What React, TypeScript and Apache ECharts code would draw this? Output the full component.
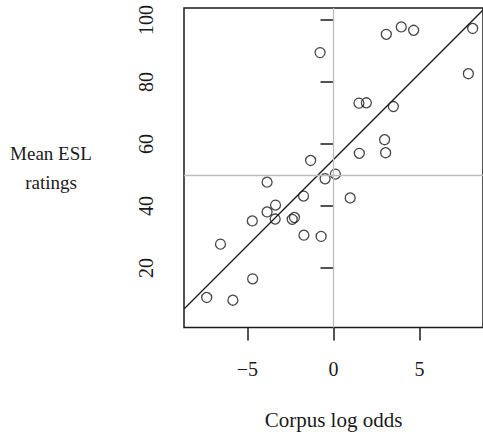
import React, { useEffect, useRef } from "react";
import * as echarts from "echarts";

// Corpus log odds (x) and Mean ESL ratings (y) for each item
const logOdds = [
  -0.78, 3.07, 3.94, 4.66, 8.09, 7.84, 1.48, 1.91, 3.48, 2.97,
  3.03, 1.5, -1.33, 0.11, -0.49, -3.86, 0.97, -1.74, -3.37, -3.86,
  -3.39, -2.4, -2.27, -4.72, -6.57, -4.7, -7.37, -5.85, -1.72, -0.72,
];
const eslRatings = [
  89.5, 95.4, 97.8, 96.7, 97.3, 82.7, 73.2, 73.3, 72.1, 61.4,
  57.2, 57.0, 54.7, 50.3, 48.8, 47.7, 42.6, 43.2, 40.3, 38.1,
  35.8, 35.7, 36.3, 35.2, 27.7, 16.5, 10.5, 9.6, 30.6, 30.2,
];
const xTicks = [-5, 0, 5];
const yTicks = [20, 40, 60, 80, 100];
const fitIntercept = 55.0;
const fitSlope = 5.55;
const xRange = [-8.69, 8.69];
const yRange = [0.8, 103.9];
const refX = 0;
const refY = 50;

export default function App() {
  const ref = useRef<HTMLDivElement>(null);
  useEffect(() => {
    document.body.style.margin = "0";
    const chart = echarts.init(ref.current!, null, { renderer: "svg" });
    const font = "'Liberation Serif', 'Times New Roman', serif";
    const ink = "#1a1a1a";
    const points = logOdds.map((x, i) => [x, eslRatings[i]]);
    const fit = xRange.map((x) => [x, fitIntercept + fitSlope * x]);
    chart.setOption({
      animation: false,
      grid: {
        left: 184,
        top: 8,
        right: -7,
        bottom: 107,
        show: true,
        borderColor: ink,
        borderWidth: 1.5,
        backgroundColor: "transparent",
      },
      xAxis: {
        type: "value",
        min: xRange[0],
        max: xRange[1],
        axisLine: { show: false },
        axisTick: {
          show: true,
          customValues: xTicks,
          length: 13,
          lineStyle: { color: ink, width: 1.5 },
        },
        axisLabel: {
          customValues: xTicks,
          formatter: (v: number) => String(v).replace("-", "\u2212"),
          margin: 31,
          fontFamily: font,
          fontSize: 20,
          color: ink,
        },
        splitLine: { show: false },
        name: "Corpus log odds",
        nameLocation: "middle",
        nameGap: 92,
        nameTextStyle: {
          fontFamily: font,
          fontSize: 21,
          color: ink,
          verticalAlign: "middle",
        },
      },
      yAxis: {
        type: "value",
        min: yRange[0],
        max: yRange[1],
        axisLine: { show: false },
        axisTick: {
          show: true,
          customValues: yTicks,
          length: 13,
          lineStyle: { color: ink, width: 1.5 },
        },
        axisLabel: {
          customValues: yTicks,
          rotate: 90,
          margin: 28,
          fontFamily: font,
          fontSize: 20,
          color: ink,
        },
        splitLine: { show: false },
        name: "Mean ESL\nratings",
        nameLocation: "middle",
        nameRotate: 0,
        nameGap: 133,
        nameTextStyle: {
          fontFamily: font,
          fontSize: 19,
          lineHeight: 29,
          color: ink,
          align: "center",
          verticalAlign: "middle",
          padding: [7, 0, 0, 0],
        },
      },
      series: [
        {
          type: "line",
          data: [],
          z: 1,
          markLine: {
            silent: true,
            symbol: ["none", "none"],
            label: { show: false },
            lineStyle: { color: "#bebebe", type: "solid", width: 1.3 },
            data: [{ xAxis: refX }, { yAxis: refY }],
          },
        },
        {
          type: "line",
          data: fit,
          z: 2,
          showSymbol: false,
          clip: true,
          lineStyle: { color: ink, width: 1.3 },
        },
        {
          type: "scatter",
          data: points,
          z: 3,
          symbol: "circle",
          symbolSize: 10,
          itemStyle: {
            color: "rgba(0,0,0,0)",
            borderColor: ink,
            borderWidth: 1.3,
          },
        },
      ],
    });
    return () => chart.dispose();
  }, []);
  return <div ref={ref} style={{ width: 483, height: 435 }} />;
}
